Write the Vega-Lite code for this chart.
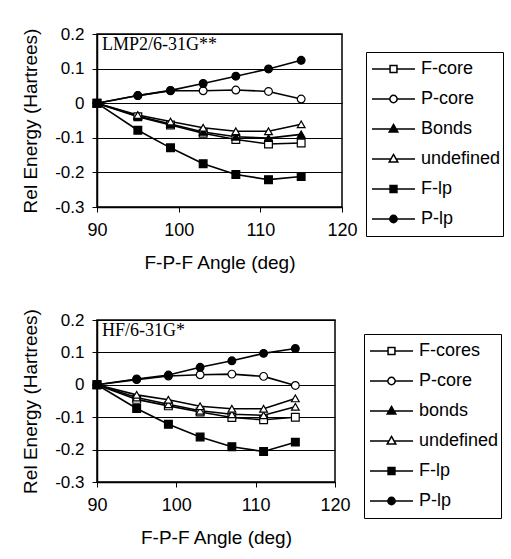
{
  "$schema": "https://vega.github.io/schema/vega-lite/v6.json",
  "padding": {"left": 20, "top": 24, "right": 0, "bottom": 0},
  "spacing": 34,
  "datasets": {
    "lmp2": [
      {"angle": 90, "energy": 0, "series": "F-core"},
      {"angle": 95, "energy": -0.039, "series": "F-core"},
      {"angle": 99, "energy": -0.063, "series": "F-core"},
      {"angle": 103, "energy": -0.087, "series": "F-core"},
      {"angle": 107, "energy": -0.105, "series": "F-core"},
      {"angle": 111, "energy": -0.118, "series": "F-core"},
      {"angle": 115, "energy": -0.115, "series": "F-core"},
      {"angle": 90, "energy": 0, "series": "P-core"},
      {"angle": 95, "energy": 0.022, "series": "P-core"},
      {"angle": 99, "energy": 0.036, "series": "P-core"},
      {"angle": 103, "energy": 0.036, "series": "P-core"},
      {"angle": 107, "energy": 0.038, "series": "P-core"},
      {"angle": 111, "energy": 0.034, "series": "P-core"},
      {"angle": 115, "energy": 0.012, "series": "P-core"},
      {"angle": 90, "energy": 0, "series": "Bonds"},
      {"angle": 95, "energy": -0.037, "series": "Bonds"},
      {"angle": 99, "energy": -0.06, "series": "Bonds"},
      {"angle": 103, "energy": -0.083, "series": "Bonds"},
      {"angle": 107, "energy": -0.097, "series": "Bonds"},
      {"angle": 111, "energy": -0.101, "series": "Bonds"},
      {"angle": 115, "energy": -0.09, "series": "Bonds"},
      {"angle": 90, "energy": 0, "series": "undefined"},
      {"angle": 95, "energy": -0.034, "series": "undefined"},
      {"angle": 99, "energy": -0.053, "series": "undefined"},
      {"angle": 103, "energy": -0.071, "series": "undefined"},
      {"angle": 107, "energy": -0.081, "series": "undefined"},
      {"angle": 111, "energy": -0.081, "series": "undefined"},
      {"angle": 115, "energy": -0.061, "series": "undefined"},
      {"angle": 90, "energy": 0, "series": "F-lp"},
      {"angle": 95, "energy": -0.078, "series": "F-lp"},
      {"angle": 99, "energy": -0.129, "series": "F-lp"},
      {"angle": 103, "energy": -0.175, "series": "F-lp"},
      {"angle": 107, "energy": -0.206, "series": "F-lp"},
      {"angle": 111, "energy": -0.221, "series": "F-lp"},
      {"angle": 115, "energy": -0.212, "series": "F-lp"},
      {"angle": 90, "energy": 0, "series": "P-lp"},
      {"angle": 95, "energy": 0.022, "series": "P-lp"},
      {"angle": 99, "energy": 0.037, "series": "P-lp"},
      {"angle": 103, "energy": 0.057, "series": "P-lp"},
      {"angle": 107, "energy": 0.078, "series": "P-lp"},
      {"angle": 111, "energy": 0.099, "series": "P-lp"},
      {"angle": 115, "energy": 0.124, "series": "P-lp"}
    ],
    "hf": [
      {"angle": 90, "energy": 0, "series": "F-cores"},
      {"angle": 95, "energy": -0.045, "series": "F-cores"},
      {"angle": 99, "energy": -0.065, "series": "F-cores"},
      {"angle": 103, "energy": -0.084, "series": "F-cores"},
      {"angle": 107, "energy": -0.101, "series": "F-cores"},
      {"angle": 111, "energy": -0.108, "series": "F-cores"},
      {"angle": 115, "energy": -0.1, "series": "F-cores"},
      {"angle": 90, "energy": 0, "series": "P-core"},
      {"angle": 95, "energy": 0.016, "series": "P-core"},
      {"angle": 99, "energy": 0.027, "series": "P-core"},
      {"angle": 103, "energy": 0.031, "series": "P-core"},
      {"angle": 107, "energy": 0.033, "series": "P-core"},
      {"angle": 111, "energy": 0.026, "series": "P-core"},
      {"angle": 115, "energy": -0.002, "series": "P-core"},
      {"angle": 90, "energy": 0, "series": "bonds"},
      {"angle": 95, "energy": -0.039, "series": "bonds"},
      {"angle": 99, "energy": -0.06, "series": "bonds"},
      {"angle": 103, "energy": -0.08, "series": "bonds"},
      {"angle": 107, "energy": -0.091, "series": "bonds"},
      {"angle": 111, "energy": -0.094, "series": "bonds"},
      {"angle": 115, "energy": -0.068, "series": "bonds"},
      {"angle": 90, "energy": 0, "series": "undefined"},
      {"angle": 95, "energy": -0.031, "series": "undefined"},
      {"angle": 99, "energy": -0.046, "series": "undefined"},
      {"angle": 103, "energy": -0.066, "series": "undefined"},
      {"angle": 107, "energy": -0.074, "series": "undefined"},
      {"angle": 111, "energy": -0.074, "series": "undefined"},
      {"angle": 115, "energy": -0.042, "series": "undefined"},
      {"angle": 90, "energy": 0, "series": "F-lp"},
      {"angle": 95, "energy": -0.073, "series": "F-lp"},
      {"angle": 99, "energy": -0.122, "series": "F-lp"},
      {"angle": 103, "energy": -0.161, "series": "F-lp"},
      {"angle": 107, "energy": -0.191, "series": "F-lp"},
      {"angle": 111, "energy": -0.206, "series": "F-lp"},
      {"angle": 115, "energy": -0.177, "series": "F-lp"},
      {"angle": 90, "energy": 0, "series": "P-lp"},
      {"angle": 95, "energy": 0.018, "series": "P-lp"},
      {"angle": 99, "energy": 0.03, "series": "P-lp"},
      {"angle": 103, "energy": 0.054, "series": "P-lp"},
      {"angle": 107, "energy": 0.074, "series": "P-lp"},
      {"angle": 111, "energy": 0.097, "series": "P-lp"},
      {"angle": 115, "energy": 0.112, "series": "P-lp"}
    ]
  },
  "vconcat": [
    {
      "width": 245,
      "height": 173,
      "layer": [
        {"data": {"name": "lmp2"},
         "mark": {"type": "line", "color": "black", "strokeWidth": 1.6},
         "encoding": {
           "x": {"field": "angle", "type": "quantitative", "scale": {"domain": [90, 120], "nice": false, "zero": false}, "axis": {"values": [90, 100, 110, 120], "title": "F-P-F Angle (deg)", "grid": false}},
           "y": {"field": "energy", "type": "quantitative", "scale": {"domain": [-0.3, 0.2], "nice": false, "zero": false}, "axis": {"values": [-0.3, -0.2, -0.1, 0, 0.1, 0.2], "title": "Rel Energy (Hartrees)", "grid": true, "labelExpr": "replace(format(datum.value, '.1~f'), '\u2212', '-')"}},
           "detail": {"field": "series"}
         }},
        {"data": {"name": "lmp2"},
         "mark": {"type": "point", "filled": true, "stroke": "black", "strokeWidth": 1.2, "size": 60, "opacity": 1},
         "encoding": {
           "x": {"field": "angle", "type": "quantitative", "scale": {"domain": [90, 120], "nice": false, "zero": false}, "axis": {"values": [90, 100, 110, 120], "title": "F-P-F Angle (deg)", "grid": false}},
           "y": {"field": "energy", "type": "quantitative", "scale": {"domain": [-0.3, 0.2], "nice": false, "zero": false}, "axis": {"values": [-0.3, -0.2, -0.1, 0, 0.1, 0.2], "title": "Rel Energy (Hartrees)", "grid": true, "labelExpr": "replace(format(datum.value, '.1~f'), '\u2212', '-')"}},
           "shape": {"field": "series", "scale": {"domain": ["F-core", "P-core", "Bonds", "undefined", "F-lp", "P-lp"], "range": ["square", "circle", "triangle-up", "triangle-up", "square", "circle"]}, "legend": null},
           "fill": {"field": "series", "scale": {"domain": ["F-core", "P-core", "Bonds", "undefined", "F-lp", "P-lp"], "range": ["white", "white", "black", "white", "black", "black"]}, "legend": null}
         }},
        {"data": {"name": "lmp2"},
         "mark": {"type": "point", "filled": true, "stroke": "black", "opacity": 0},
         "encoding": {
           "x": {"field": "angle", "type": "quantitative", "scale": {"domain": [90, 120], "nice": false, "zero": false}, "axis": {"values": [90, 100, 110, 120], "title": "F-P-F Angle (deg)", "grid": false}},
           "y": {"field": "energy", "type": "quantitative", "scale": {"domain": [-0.3, 0.2], "nice": false, "zero": false}, "axis": {"values": [-0.3, -0.2, -0.1, 0, 0.1, 0.2], "title": "Rel Energy (Hartrees)", "grid": true, "labelExpr": "replace(format(datum.value, '.1~f'), '\u2212', '-')"}},
           "shape": {"field": "series", "scale": {"domain": ["F-core", "P-core", "Bonds", "undefined", "F-lp", "P-lp"], "range": ["M-1,0H-0.16M0.16,0H1M-0.16,-0.16H0.16V0.16H-0.16Z", "M-1,0H-0.17M0.17,0H1M-0.17,0A0.17,0.17,0,1,1,0.17,0A0.17,0.17,0,1,1,-0.17,0Z", "M-1,0H-0.12M0.12,0H1M0,-0.21L0.2,0.14H-0.2Z", "M-1,0H-0.12M0.12,0H1M0,-0.21L0.2,0.14H-0.2Z", "M-1,0H-0.16M0.16,0H1M-0.16,-0.16H0.16V0.16H-0.16Z", "M-1,0H-0.17M0.17,0H1M-0.17,0A0.17,0.17,0,1,1,0.17,0A0.17,0.17,0,1,1,-0.17,0Z"]}, "legend": {"title": null, "orient": "none", "legendX": 269, "legendY": 18, "encode": {"symbols": {"update": {"stroke": {"value": "black"}, "strokeWidth": {"value": 1.5}, "opacity": {"value": 1}}}}}},
           "color": {"field": "series", "scale": {"domain": ["F-core", "P-core", "Bonds", "undefined", "F-lp", "P-lp"], "range": ["white", "white", "black", "white", "black", "black"]}, "legend": {"title": null, "orient": "none", "legendX": 269, "legendY": 18, "encode": {"symbols": {"update": {"stroke": {"value": "black"}, "strokeWidth": {"value": 1.5}, "opacity": {"value": 1}}}}}}
         }},
        {"data": {"values": [{"label": "LMP2/6-31G**"}]},
         "mark": {"type": "text", "align": "left", "baseline": "top", "dx": 5, "dy": 2, "font": "Liberation Serif", "fontSize": 18, "color": "black"},
         "encoding": {
           "x": {"datum": 90, "type": "quantitative", "scale": {"domain": [90, 120], "nice": false, "zero": false}, "axis": {"values": [90, 100, 110, 120], "title": "F-P-F Angle (deg)", "grid": false}},
           "y": {"datum": 0.2, "type": "quantitative", "scale": {"domain": [-0.3, 0.2], "nice": false, "zero": false}, "axis": {"values": [-0.3, -0.2, -0.1, 0, 0.1, 0.2], "title": "Rel Energy (Hartrees)", "grid": true, "labelExpr": "replace(format(datum.value, '.1~f'), '\u2212', '-')"}},
           "text": {"field": "label"}
         }}
      ],
      "resolve": {"scale": {"shape": "independent", "color": "independent"}, "legend": {"shape": "independent", "color": "independent"}}
    },
    {
      "width": 238,
      "height": 162,
      "layer": [
        {"data": {"name": "hf"},
         "mark": {"type": "line", "color": "black", "strokeWidth": 1.6},
         "encoding": {
           "x": {"field": "angle", "type": "quantitative", "scale": {"domain": [90, 120], "nice": false, "zero": false}, "axis": {"values": [90, 100, 110, 120], "title": "F-P-F Angle (deg)", "grid": false}},
           "y": {"field": "energy", "type": "quantitative", "scale": {"domain": [-0.3, 0.2], "nice": false, "zero": false}, "axis": {"values": [-0.3, -0.2, -0.1, 0, 0.1, 0.2], "title": "Rel Energy (Hartrees)", "grid": true, "labelExpr": "replace(format(datum.value, '.1~f'), '\u2212', '-')"}},
           "detail": {"field": "series"}
         }},
        {"data": {"name": "hf"},
         "mark": {"type": "point", "filled": true, "stroke": "black", "strokeWidth": 1.2, "size": 60, "opacity": 1},
         "encoding": {
           "x": {"field": "angle", "type": "quantitative", "scale": {"domain": [90, 120], "nice": false, "zero": false}, "axis": {"values": [90, 100, 110, 120], "title": "F-P-F Angle (deg)", "grid": false}},
           "y": {"field": "energy", "type": "quantitative", "scale": {"domain": [-0.3, 0.2], "nice": false, "zero": false}, "axis": {"values": [-0.3, -0.2, -0.1, 0, 0.1, 0.2], "title": "Rel Energy (Hartrees)", "grid": true, "labelExpr": "replace(format(datum.value, '.1~f'), '\u2212', '-')"}},
           "shape": {"field": "series", "scale": {"domain": ["F-cores", "P-core", "bonds", "undefined", "F-lp", "P-lp"], "range": ["square", "circle", "triangle-up", "triangle-up", "square", "circle"]}, "legend": null},
           "fill": {"field": "series", "scale": {"domain": ["F-cores", "P-core", "bonds", "undefined", "F-lp", "P-lp"], "range": ["white", "white", "black", "white", "black", "black"]}, "legend": null}
         }},
        {"data": {"name": "hf"},
         "mark": {"type": "point", "filled": true, "stroke": "black", "opacity": 0},
         "encoding": {
           "x": {"field": "angle", "type": "quantitative", "scale": {"domain": [90, 120], "nice": false, "zero": false}, "axis": {"values": [90, 100, 110, 120], "title": "F-P-F Angle (deg)", "grid": false}},
           "y": {"field": "energy", "type": "quantitative", "scale": {"domain": [-0.3, 0.2], "nice": false, "zero": false}, "axis": {"values": [-0.3, -0.2, -0.1, 0, 0.1, 0.2], "title": "Rel Energy (Hartrees)", "grid": true, "labelExpr": "replace(format(datum.value, '.1~f'), '\u2212', '-')"}},
           "shape": {"field": "series", "scale": {"domain": ["F-cores", "P-core", "bonds", "undefined", "F-lp", "P-lp"], "range": ["M-1,0H-0.16M0.16,0H1M-0.16,-0.16H0.16V0.16H-0.16Z", "M-1,0H-0.17M0.17,0H1M-0.17,0A0.17,0.17,0,1,1,0.17,0A0.17,0.17,0,1,1,-0.17,0Z", "M-1,0H-0.12M0.12,0H1M0,-0.21L0.2,0.14H-0.2Z", "M-1,0H-0.12M0.12,0H1M0,-0.21L0.2,0.14H-0.2Z", "M-1,0H-0.16M0.16,0H1M-0.16,-0.16H0.16V0.16H-0.16Z", "M-1,0H-0.17M0.17,0H1M-0.17,0A0.17,0.17,0,1,1,0.17,0A0.17,0.17,0,1,1,-0.17,0Z"]}, "legend": {"title": null, "orient": "none", "legendX": 267, "legendY": 14, "encode": {"symbols": {"update": {"stroke": {"value": "black"}, "strokeWidth": {"value": 1.5}, "opacity": {"value": 1}}}}}},
           "color": {"field": "series", "scale": {"domain": ["F-cores", "P-core", "bonds", "undefined", "F-lp", "P-lp"], "range": ["white", "white", "black", "white", "black", "black"]}, "legend": {"title": null, "orient": "none", "legendX": 267, "legendY": 14, "encode": {"symbols": {"update": {"stroke": {"value": "black"}, "strokeWidth": {"value": 1.5}, "opacity": {"value": 1}}}}}}
         }},
        {"data": {"values": [{"label": "HF/6-31G*"}]},
         "mark": {"type": "text", "align": "left", "baseline": "top", "dx": 5, "dy": 2, "font": "Liberation Serif", "fontSize": 18, "color": "black"},
         "encoding": {
           "x": {"datum": 90, "type": "quantitative", "scale": {"domain": [90, 120], "nice": false, "zero": false}, "axis": {"values": [90, 100, 110, 120], "title": "F-P-F Angle (deg)", "grid": false}},
           "y": {"datum": 0.2, "type": "quantitative", "scale": {"domain": [-0.3, 0.2], "nice": false, "zero": false}, "axis": {"values": [-0.3, -0.2, -0.1, 0, 0.1, 0.2], "title": "Rel Energy (Hartrees)", "grid": true, "labelExpr": "replace(format(datum.value, '.1~f'), '\u2212', '-')"}},
           "text": {"field": "label"}
         }}
      ],
      "resolve": {"scale": {"shape": "independent", "color": "independent"}, "legend": {"shape": "independent", "color": "independent"}}
    }
  ],
  "config": {
    "font": "Liberation Sans",
    "view": {"stroke": "black", "strokeWidth": 1.5},
    "axis": {"domainColor": "black", "domainWidth": 1.5, "tickColor": "black", "tickSize": 5, "labelColor": "black", "titleColor": "black", "gridColor": "black", "gridWidth": 1, "gridOpacity": 1, "labelFont": "Liberation Sans", "titleFont": "Liberation Sans", "titleFontWeight": "normal", "labelFontSize": 17, "titleFontSize": 19},
    "axisX": {"labelFontSize": 18, "labelPadding": 9, "titlePadding": 14, "labelFlush": false},
    "axisY": {"labelPadding": 8, "titlePadding": 14},
    "legend": {"labelFont": "Liberation Sans", "labelFontSize": 18, "labelColor": "black", "strokeColor": "black", "padding": 2, "clipHeight": 30, "rowPadding": 0, "symbolOffset": 3, "labelOffset": 5, "symbolSize": 1849, "symbolStrokeWidth": 1.5, "symbolStrokeColor": "black", "symbolOpacity": 1, "cornerRadius": 0}
  }
}
